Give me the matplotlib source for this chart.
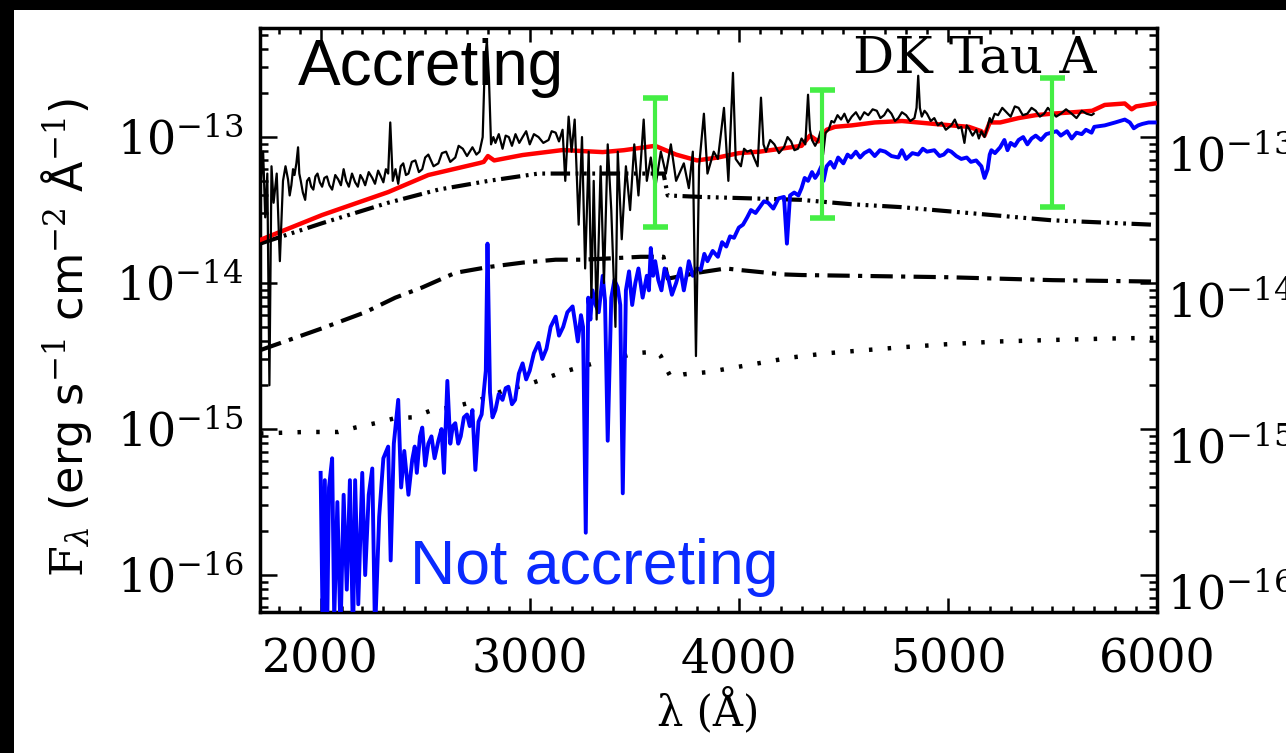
import numpy as np
import matplotlib
matplotlib.use("Agg")
import matplotlib.pyplot as plt
from matplotlib.patches import Rectangle
from matplotlib.ticker import MultipleLocator, LogLocator, NullFormatter
from matplotlib.transforms import ScaledTranslation

# wavelength (A), log10 flux (erg s-1 cm-2 A-1)

# observed spectrum, accreting (black)
obs = np.array([
    [1715, -13.30], [1725, -13.10], [1735, -13.55], [1745, -13.25], [1755, -14.70],
    [1765, -13.20], [1775, -13.45], [1790, -13.25], [1805, -13.85], [1820, -13.30],
    [1832, -13.20], [1844, -13.29], [1852, -13.40], [1860, -13.33], [1868, -13.22],
    [1875, -13.26], [1884, -13.18], [1892, -13.07], [1898, -13.25], [1905, -13.30],
    [1915, -13.38], [1926, -13.43], [1935, -13.30], [1945, -13.28], [1955, -13.34],
    [1965, -13.36], [1975, -13.27], [1985, -13.25], [1996, -13.31], [2007, -13.34],
    [2018, -13.28], [2030, -13.27], [2042, -13.33], [2055, -13.36], [2070, -13.26],
    [2084, -13.29], [2097, -13.33], [2110, -13.22], [2122, -13.30], [2135, -13.34],
    [2150, -13.25], [2165, -13.31], [2178, -13.34], [2190, -13.26], [2202, -13.29],
    [2213, -13.33], [2230, -13.24], [2247, -13.28], [2260, -13.32], [2275, -13.23],
    [2288, -13.27], [2300, -13.31], [2312, -13.22], [2323, -13.25], [2333, -12.90],
    [2345, -13.30], [2358, -13.22], [2371, -13.32], [2383, -13.20], [2395, -13.18],
    [2408, -13.26], [2420, -13.25], [2436, -13.17], [2453, -13.16], [2470, -13.24],
    [2486, -13.22], [2500, -13.14], [2515, -13.12], [2540, -13.20], [2563, -13.18],
    [2580, -13.11], [2600, -13.10], [2620, -13.17], [2644, -13.14], [2660, -13.06],
    [2680, -13.08], [2700, -13.13], [2726, -13.07], [2745, -13.12], [2760, -13.10],
    [2775, -13.00], [2785, -12.50], [2795, -12.34], [2805, -12.60], [2815, -13.05],
    [2826, -13.00], [2836, -13.04], [2852, -12.98], [2870, -13.08], [2885, -12.99],
    [2900, -13.00], [2915, -13.06], [2932, -12.98], [2950, -13.04], [2966, -13.00],
    [2983, -12.96], [3000, -13.05], [3020, -12.98], [3042, -13.00], [3065, -13.04],
    [3090, -13.02], [3105, -12.96], [3124, -12.97], [3140, -13.03], [3157, -12.95],
    [3170, -13.30], [3186, -12.86], [3200, -13.10], [3215, -12.88], [3234, -13.60],
    [3250, -13.00], [3265, -13.90], [3282, -13.10], [3295, -14.10], [3306, -13.30],
    [3320, -14.25], [3339, -13.20], [3355, -14.00], [3373, -13.05], [3390, -13.50],
    [3410, -14.30], [3421, -13.10], [3440, -13.70], [3460, -13.20], [3480, -13.50],
    [3500, -13.05], [3520, -13.40], [3545, -12.88], [3560, -13.30], [3579, -13.14],
    [3600, -13.35], [3627, -13.10], [3651, -13.25], [3675, -13.05], [3700, -13.30],
    [3737, -13.18], [3761, -13.35], [3780, -13.10], [3795, -14.50], [3810, -13.20],
    [3833, -12.84], [3850, -13.25], [3880, -13.10], [3900, -13.15], [3929, -12.80],
    [3950, -13.30], [3972, -12.56], [3985, -13.15], [4010, -13.20], [4025, -13.08],
    [4040, -13.10], [4058, -13.09], [4075, -13.15], [4090, -13.20], [4106, -12.73],
    [4118, -13.05], [4130, -13.10], [4150, -13.02], [4170, -13.05], [4192, -13.11],
    [4216, -13.07], [4233, -13.00], [4250, -13.03], [4266, -13.09], [4283, -13.08],
    [4300, -13.01], [4318, -13.05], [4331, -12.71], [4340, -12.95], [4350, -13.02],
    [4365, -13.06], [4379, -13.02], [4391, -12.96], [4403, -13.12], [4415, -12.97],
    [4430, -12.95], [4443, -12.89], [4456, -12.90], [4472, -12.85], [4489, -12.88],
    [4505, -12.84], [4522, -12.90], [4540, -12.86], [4560, -12.83], [4580, -12.88],
    [4600, -12.83], [4619, -12.85], [4640, -12.81], [4660, -12.82], [4677, -12.87],
    [4695, -12.85], [4712, -12.81], [4730, -12.84], [4747, -12.89], [4763, -12.87],
    [4780, -12.83], [4800, -12.85], [4820, -12.89], [4840, -12.87], [4850, -12.80],
    [4858, -12.58], [4866, -12.80], [4875, -12.86], [4888, -12.82], [4900, -12.84],
    [4918, -12.89], [4935, -12.87], [4952, -12.92], [4970, -12.90], [4990, -12.95],
    [5016, -12.92], [5033, -12.88], [5050, -12.94], [5064, -12.93], [5079, -13.04],
    [5090, -12.92], [5100, -12.94], [5118, -12.99], [5136, -12.95], [5148, -13.01],
    [5160, -12.96], [5175, -13.00], [5190, -12.93], [5200, -12.87], [5208, -12.90],
    [5224, -12.84], [5240, -12.85], [5260, -12.80], [5280, -12.83], [5300, -12.86],
    [5320, -12.79], [5338, -12.80], [5358, -12.85], [5380, -12.84], [5400, -12.80],
    [5420, -12.82], [5440, -12.86], [5460, -12.84], [5478, -12.80], [5496, -12.83],
    [5518, -12.86], [5540, -12.84], [5565, -12.81], [5592, -12.84], [5615, -12.87],
    [5640, -12.82], [5663, -12.84], [5687, -12.85], [5697, -12.84],
])

# best-fit total model (red)
fit = np.array([
    [1710, -13.705], [2007, -13.534], [2323, -13.377], [2515, -13.260], [2760, -13.178],
    [2780, -13.17], [2800, -13.13], [2830, -13.16], [2966, -13.123], [3157, -13.089],
    [3349, -13.103], [3450, -13.09], [3600, -13.06], [3700, -13.12], [3800, -13.16],
    [3900, -13.14], [4000, -13.11], [4100, -13.10], [4200, -13.08], [4300, -13.06],
    [4340, -12.99], [4380, -13.03], [4420, -12.95], [4460, -12.93], [4540, -12.92],
    [4650, -12.90], [4780, -12.89], [4935, -12.91], [5016, -12.92], [5100, -12.93],
    [5160, -12.96], [5175, -12.99], [5200, -12.90], [5250, -12.90], [5338, -12.87],
    [5420, -12.85], [5496, -12.84], [5600, -12.83], [5690, -12.82], [5750, -12.78],
    [5846, -12.77], [5879, -12.81], [5900, -12.79], [5989, -12.77],
])

# non-accreting template (blue)
wtts = np.array([
    [2000, -15.30], [2010, -16.40], [2020, -15.35], [2030, -16.50], [2040, -15.40],
    [2055, -15.20], [2065, -16.30], [2080, -15.50], [2095, -16.40], [2110, -15.45],
    [2125, -16.10], [2140, -15.35], [2155, -16.45], [2165, -15.35], [2180, -16.20],
    [2199, -15.30], [2213, -16.00], [2230, -15.45], [2247, -15.27], [2260, -16.40],
    [2280, -15.60], [2300, -15.20], [2323, -15.12], [2335, -15.90], [2350, -15.10],
    [2371, -14.80], [2385, -15.40], [2400, -15.15], [2410, -15.30], [2420, -15.45],
    [2438, -15.21], [2450, -15.12], [2460, -15.30], [2475, -15.05], [2486, -14.99],
    [2500, -15.25], [2515, -15.10], [2530, -15.05], [2545, -15.20], [2563, -15.08],
    [2578, -15.00], [2590, -15.30], [2606, -14.67], [2620, -15.10], [2632, -14.98],
    [2644, -14.96], [2658, -15.10], [2670, -15.05], [2685, -14.92], [2700, -14.90],
    [2713, -14.98], [2726, -14.87], [2740, -15.28], [2755, -14.95], [2770, -14.90],
    [2790, -14.60], [2798, -13.73], [2810, -14.75], [2822, -14.92], [2836, -14.87],
    [2852, -14.76], [2870, -14.80], [2885, -14.72], [2898, -14.71], [2915, -14.83],
    [2930, -14.80], [2948, -14.62], [2966, -14.55], [2983, -14.66], [3000, -14.60],
    [3020, -14.48], [3042, -14.41], [3060, -14.52], [3080, -14.45], [3100, -14.30],
    [3124, -14.23], [3140, -14.36], [3160, -14.30], [3180, -14.20], [3205, -14.16],
    [3218, -14.28], [3230, -14.40], [3245, -14.22], [3255, -14.30], [3268, -15.71],
    [3280, -14.10], [3290, -14.25], [3300, -14.05], [3315, -14.15], [3330, -14.20],
    [3349, -13.95], [3360, -14.12], [3373, -15.08], [3390, -14.10], [3405, -13.98],
    [3421, -14.03], [3433, -14.15], [3445, -15.44], [3460, -14.05], [3475, -13.92],
    [3490, -14.15], [3505, -14.00], [3520, -13.90], [3540, -14.10], [3560, -13.95],
    [3570, -14.05], [3579, -13.76], [3590, -13.95], [3600, -13.85], [3615, -13.98],
    [3630, -14.05], [3645, -13.90], [3660, -13.95], [3680, -14.08], [3700, -14.00],
    [3720, -13.90], [3737, -14.05], [3750, -13.95], [3761, -13.85], [3780, -13.95],
    [3800, -13.90], [3818, -13.91], [3835, -13.80], [3850, -13.85], [3875, -13.78],
    [3900, -13.82], [3920, -13.72], [3940, -13.75], [3958, -13.68], [3977, -13.69],
    [4000, -13.62], [4020, -13.60], [4040, -13.55], [4058, -13.50], [4080, -13.52],
    [4100, -13.48], [4120, -13.44], [4140, -13.45], [4165, -13.49], [4190, -13.42],
    [4216, -13.41], [4230, -13.73], [4245, -13.40], [4265, -13.38], [4285, -13.40],
    [4300, -13.35], [4315, -13.28], [4331, -13.30], [4350, -13.24], [4365, -13.28],
    [4379, -13.25], [4395, -13.20], [4405, -13.30], [4420, -13.20], [4438, -13.17],
    [4456, -13.21], [4475, -13.14], [4500, -13.18], [4520, -13.12], [4537, -13.14],
    [4560, -13.10], [4580, -13.14], [4600, -13.11], [4625, -13.09], [4650, -13.13],
    [4675, -13.09], [4700, -13.10], [4730, -13.13], [4763, -13.14], [4780, -13.09],
    [4800, -13.15], [4830, -13.11], [4858, -13.12], [4880, -13.08], [4900, -13.10],
    [4935, -13.09], [4960, -13.13], [4980, -13.12], [5000, -13.09], [5016, -13.10],
    [5040, -13.13], [5064, -13.15], [5090, -13.14], [5110, -13.17], [5135, -13.16],
    [5160, -13.20], [5175, -13.28], [5190, -13.22], [5200, -13.12], [5208, -13.09],
    [5225, -13.11], [5250, -13.07], [5270, -13.02], [5285, -13.09], [5300, -13.04],
    [5320, -13.06], [5338, -13.02], [5360, -13.00], [5380, -13.05], [5400, -13.01],
    [5420, -12.99], [5445, -13.02], [5470, -12.98], [5496, -12.97], [5520, -12.96],
    [5540, -12.99], [5570, -12.96], [5592, -13.01], [5615, -12.97], [5640, -12.98],
    [5660, -12.95], [5687, -12.97], [5700, -12.93], [5750, -12.92], [5800, -12.90],
    [5846, -12.88], [5870, -12.90], [5889, -12.94], [5910, -12.92], [5930, -12.91],
    [5960, -12.90], [5989, -12.90],
])

# model components (black broken lines)
comp_upper = np.array([
    [1710, -13.73], [2007, -13.59], [2323, -13.45], [2563, -13.36], [2803, -13.30],
    [3042, -13.25], [3157, -13.25], [3339, -13.25], [3579, -13.25], [3640, -13.25],
    [3660, -13.40], [3818, -13.41], [4058, -13.42], [4298, -13.43], [4456, -13.45],
    [4537, -13.46], [4777, -13.48], [4935, -13.50], [5098, -13.52], [5496, -13.57],
    [5975, -13.60], [6000, -13.60],
])
comp_middle = np.array([
    [1710, -14.46], [2007, -14.31], [2213, -14.20], [2357, -14.10], [2486, -14.03],
    [2644, -13.93], [2803, -13.89], [2966, -13.86], [3124, -13.84], [3250, -13.84],
    [3400, -13.83], [3531, -13.82], [3640, -13.82], [3660, -13.97], [3800, -13.93],
    [3938, -13.90], [4000, -13.91], [4140, -13.93], [4200, -13.94], [4300, -13.945],
    [4537, -13.95], [5000, -13.96], [5500, -13.98], [6000, -13.99],
])
comp_lower = np.array([
    [1710, -15.03], [1926, -15.02], [2084, -15.02], [2165, -14.99], [2261, -14.96],
    [2357, -14.925], [2438, -14.92], [2534, -14.87], [2630, -14.85], [2726, -14.815],
    [2803, -14.78], [2884, -14.73], [2980, -14.70], [3061, -14.66], [3157, -14.61],
    [3243, -14.575], [3330, -14.54], [3426, -14.51], [3507, -14.48], [3603, -14.47],
    [3627, -14.50], [3651, -14.58], [3675, -14.645], [3737, -14.625], [3852, -14.61],
    [4072, -14.555], [4250, -14.51], [4427, -14.48], [4600, -14.46], [4777, -14.44],
    [4983, -14.42], [5242, -14.40], [5496, -14.39], [5769, -14.38], [6000, -14.375],
])

# photometry ranges (U, B, V)
band_wave = [3600, 4400, 5500]
band_lo = [-13.616, -13.555, -13.479]
band_hi = [-12.733, -12.678, -12.596]

y_major = [1e-16, 1e-15, 1e-14, 1e-13]

plt.rcParams["font.family"] = "DejaVu Serif"
plt.rcParams["mathtext.fontset"] = "dejavuserif"
plt.rcParams["lines.scale_dashes"] = False

fig = plt.figure(figsize=(12.86, 7.53), dpi=100, facecolor="white")
ax = fig.add_axes([260 / 1286, 141 / 753, 897 / 1286, 584 / 753])

# black frame strips of the screenshot (left and top only)
fig.add_artist(Rectangle((0, 0), 14 / 1286, 1, transform=fig.transFigure,
                         facecolor="black", edgecolor="none", zorder=10))
fig.add_artist(Rectangle((0, 1 - 10 / 753), 1, 10 / 753, transform=fig.transFigure,
                         facecolor="black", edgecolor="none", zorder=10))

ax.plot(comp_upper[:, 0], 10 ** comp_upper[:, 1], color="black", lw=3,
        dashes=(14, 4, 2, 4, 2, 4, 2, 4), zorder=2)
ax.plot(comp_middle[:, 0], 10 ** comp_middle[:, 1], color="black", lw=3,
        dashes=(16, 6, 3, 6), zorder=2)
ax.plot(comp_lower[:, 0], 10 ** comp_lower[:, 1], color="black", lw=3.2,
        dashes=(2.5, 11), zorder=2)
ax.plot(fit[:, 0], 10 ** fit[:, 1], color="#ff0000", lw=3.2, zorder=3)
ax.plot(wtts[:, 0], 10 ** wtts[:, 1], color="#0000ff", lw=2.8, zorder=4)
ax.plot(obs[:, 0], 10 ** obs[:, 1], color="black", lw=1.6, zorder=5)

lo = 10 ** np.array(band_lo)
hi = 10 ** np.array(band_hi)
mid = np.sqrt(lo * hi)
ax.errorbar(band_wave, mid, yerr=[mid - lo, hi - mid], fmt="none",
            ecolor="#44ee44", elinewidth=3, capsize=9, capthick=4, zorder=6)

ax.set_yscale("log")
ax.set_xlim(1710, 6000)
ax.set_ylim(10 ** -16.253, 10 ** -12.253)

ax.xaxis.set_major_locator(MultipleLocator(1000))
ax.xaxis.set_minor_locator(MultipleLocator(100))
ax.set_yticks(y_major)
ax.yaxis.set_minor_locator(LogLocator(base=10, subs=np.arange(2, 10)))
ax.yaxis.set_minor_formatter(NullFormatter())

ax.tick_params(axis="both", which="both", direction="in", top=True, right=True,
               width=1.8, labelsize=33)
ax.tick_params(axis="x", which="major", length=10, pad=18)
ax.tick_params(axis="x", which="minor", length=4)
ax.tick_params(axis="y", which="major", length=12, pad=12, labelright=True)
ax.tick_params(axis="y", which="minor", length=6)
for s in ax.spines.values():
    s.set_linewidth(2.5)

# right-hand labels sit a little below their ticks and closer to the axis
shift = ScaledTranslation(-7 / 100, -17 / 100, fig.dpi_scale_trans)
for t in ax.yaxis.get_major_ticks():
    t.label2.set_transform(t.label2.get_transform() + shift)

ax.set_xlabel("λ (Å)", fontsize=30, labelpad=4)
ax.set_ylabel(r"$\mathrm{F}_\lambda$ (erg s$^{-1}$ cm$^{-2}$ Å$^{-1}$)",
              fontsize=32, family="DejaVu Sans")
ax.yaxis.set_label_coords(-0.185, 0.47)

ax.text(0.0424, 0.902, "Accreting", transform=ax.transAxes, fontsize=46,
        family="Liberation Sans", va="baseline", ha="left", zorder=7)
ax.text(0.933, 0.923, "DK Tau A", transform=ax.transAxes, fontsize=37,
        va="baseline", ha="right", zorder=7)
ax.text(0.167, 0.048, "Not accreting", transform=ax.transAxes, fontsize=45,
        family="Liberation Sans", color="#0a2aff", va="baseline", ha="left", zorder=7)

fig.savefig("out.png", dpi=100, facecolor="white")
